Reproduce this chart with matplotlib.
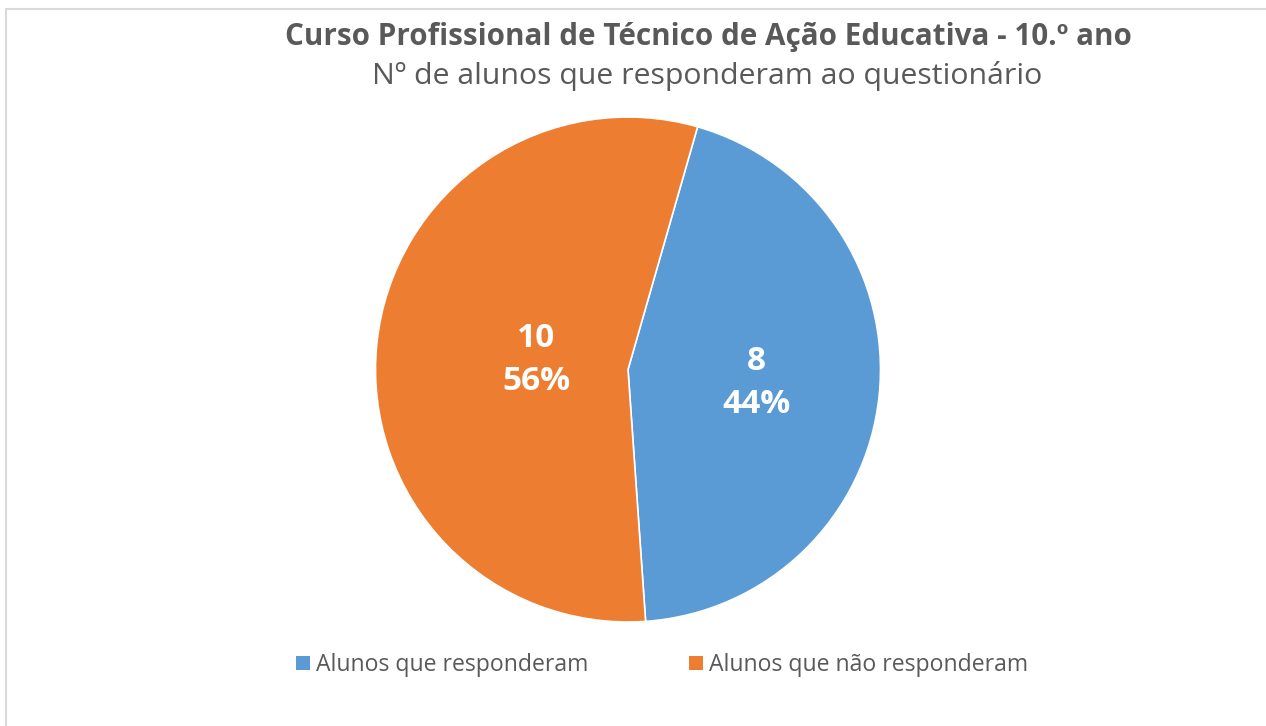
import matplotlib
matplotlib.use("Agg")
import matplotlib.pyplot as plt
import numpy as np
from matplotlib.patches import Rectangle

plt.rcParams['font.family'] = ['Open Sans', 'DejaVu Sans']

categories = ["Alunos que responderam", "Alunos que não responderam"]
values = [8, 10]
colors = ["#5B9BD5", "#ED7D31"]
title = "Curso Profissional de Técnico de Ação Educativa - 10.º ano"
subtitle = "Nº de alunos que responderam ao questionário"

W, H = 1266, 726
fig = plt.figure(figsize=(W / 100, H / 100), dpi=100)
ax = fig.add_axes([0, 0, 1, 1])
ax.set_xlim(0, W)
ax.set_ylim(0, H)
ax.set_aspect('equal')
ax.axis('off')

# chart border (only top/left visible in crop)
ax.add_patch(Rectangle((6, -10), W + 20, H - 9 + 10, fill=False,
                       edgecolor='#D9D9D9', linewidth=1.5))

cx, cy, r = 628, H - 369.5, 252.5
wedges, _ = ax.pie(values, colors=colors, startangle=74, counterclock=False,
                   center=(cx, cy), radius=r, frame=True,
                   wedgeprops=dict(edgecolor='white', linewidth=1.2))
ax.set_xlim(0, W)
ax.set_ylim(0, H)
ax.axis('off')

total = sum(values)
label_dist = [0.51, 0.365]
for w, v, d in zip(wedges, values, label_dist):
    theta = np.deg2rad((w.theta1 + w.theta2) / 2)
    x = cx + d * r * np.cos(theta)
    y = cy + d * r * np.sin(theta)
    ax.text(x, y, f"{v}\n{v / total:.0%}", ha='center', va='center',
            color='white', fontsize=24, fontweight='bold', linespacing=1.4)

ax.text(708.5, H - 37, title, ha='center', va='center', fontsize=21.3,
        fontweight='bold', color='#595959')
ax.text(707.5, H - 76, subtitle, ha='center', va='center', fontsize=21.8,
        color='#595959')

handles = [Rectangle((0, 0), 1, 1, facecolor=c, edgecolor='none') for c in colors]
leg = fig.legend(handles, categories, loc='center', bbox_to_anchor=(662 / W, 1 - 665 / H),
                 ncol=2, frameon=False, fontsize=16.6, handlelength=0.6, handleheight=0.6,
                 handletextpad=0.26, columnspacing=4.4, labelcolor='#595959',
                 borderpad=0, borderaxespad=0)

fig.savefig("out.png", dpi=100)
